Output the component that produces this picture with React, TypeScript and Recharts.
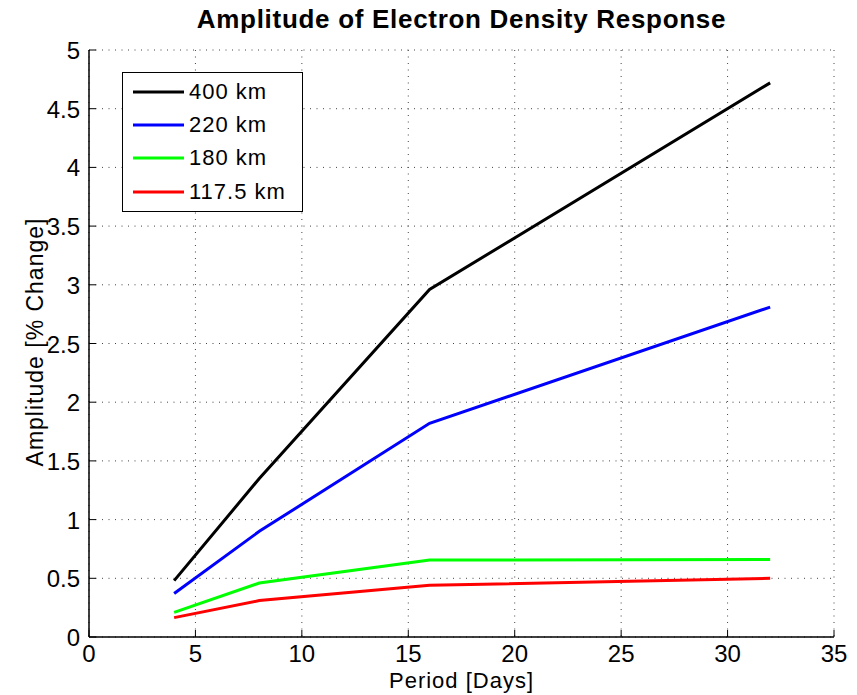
import { CartesianGrid, Line, LineChart, XAxis, YAxis } from 'recharts';

const periods = [4, 8, 16, 32];
const amp400 = [0.48, 1.35, 2.96, 4.72];
const amp220 = [0.37, 0.9, 1.82, 2.81];
const amp180 = [0.21, 0.46, 0.655, 0.66];
const amp1175 = [0.165, 0.31, 0.44, 0.5];

const xTicks = [0, 5, 10, 15, 20, 25, 30, 35];
const yTicks = [0, 0.5, 1, 1.5, 2, 2.5, 3, 3.5, 4, 4.5, 5];

const series = [
  { key: 'a400', name: '400 km', color: '#000000', values: amp400 },
  { key: 'a220', name: '220 km', color: '#0000ff', values: amp220 },
  { key: 'a180', name: '180 km', color: '#00ff00', values: amp180 },
  { key: 'a1175', name: '117.5 km', color: '#ff0000', values: amp1175 },
];

const data = periods.map((p, i) => {
  const row: Record<string, number> = { period: p };
  series.forEach(s => {
    row[s.key] = s.values[i];
  });
  return row;
});

const font = 'Liberation Sans, Arial, Helvetica, sans-serif';
const TICK = 7;

function BottomTick({ x, y, payload }: any) {
  return (
    <g>
      <line x1={x} x2={x} y1={y} y2={y - TICK} stroke={'#000'} strokeWidth={1} />
      <text x={x} y={y + 25} textAnchor={'middle'} fontSize={24} fontFamily={font} fill={'#000'}>
        {payload.value}
      </text>
    </g>
  );
}

function TopTick({ x, y }: any) {
  return <line x1={x} x2={x} y1={y} y2={y + TICK} stroke={'#000'} strokeWidth={1} />;
}

function LeftTick({ x, y, payload }: any) {
  return (
    <g>
      <line x1={x} x2={x + TICK} y1={y} y2={y} stroke={'#000'} strokeWidth={1} />
      <text x={x - 9} y={y + 9} textAnchor={'end'} fontSize={24} fontFamily={font} fill={'#000'}>
        {payload.value}
      </text>
    </g>
  );
}

function RightTick({ x, y }: any) {
  return <line x1={x} x2={x - TICK} y1={y} y2={y} stroke={'#000'} strokeWidth={1} />;
}

function LegendBox() {
  return (
    <div
      style={{
        position: 'absolute',
        left: 122,
        top: 72,
        width: 181,
        height: 140,
        border: '1.5px solid #000',
        background: '#fff',
        boxSizing: 'border-box',
        fontFamily: font,
        fontSize: 22,
        letterSpacing: 1,
        paddingTop: 2,
      }}
    >
      {series.map(s => (
        <div key={s.key} style={{ display: 'flex', alignItems: 'center', height: 33.3 }}>
          <svg width={66} height={10}>
            <line x1={10} x2={61} y1={5} y2={5} stroke={s.color} strokeWidth={3} />
          </svg>
          <span>{s.name}</span>
        </div>
      ))}
    </div>
  );
}

export default function App() {
  return (
    <div style={{ position: 'absolute', left: 0, top: 0, width: 857, height: 695, background: '#fff' }}>
      <LineChart
        width={857}
        height={695}
        data={data}
        margin={{ top: 50, right: 23, bottom: 28, left: 59 }}
        style={{ position: 'absolute', left: 0, top: 0 }}
      >
        <CartesianGrid
          xAxisId={'main'}
          yAxisId={'main'}
          stroke={'#444'}
          strokeDasharray={'1 5.5'}
          strokeWidth={1}
          verticalValues={xTicks}
          horizontalValues={yTicks}
        />
        <XAxis
          xAxisId={'main'}
          dataKey={'period'}
          type={'number'}
          domain={[0, 35]}
          ticks={xTicks}
          height={30}
          axisLine={{ stroke: '#000', strokeWidth: 1.5 }}
          tickLine={false}
          tickSize={0}
          tickMargin={0}
          tick={<BottomTick />}
          interval={0}
        />
        <XAxis
          xAxisId={'top'}
          orientation={'top'}
          type={'number'}
          domain={[0, 35]}
          ticks={xTicks}
          height={0}
          axisLine={{ stroke: '#000', strokeWidth: 1.5 }}
          tickLine={false}
          tickSize={0}
          tickMargin={0}
          tick={<TopTick />}
          interval={0}
        />
        <YAxis
          yAxisId={'main'}
          type={'number'}
          domain={[0, 5]}
          ticks={yTicks}
          width={30}
          axisLine={{ stroke: '#000', strokeWidth: 1.5 }}
          tickLine={false}
          tickSize={0}
          tickMargin={0}
          tick={<LeftTick />}
          interval={0}
        />
        <YAxis
          yAxisId={'right'}
          orientation={'right'}
          type={'number'}
          domain={[0, 5]}
          ticks={yTicks}
          width={0}
          axisLine={{ stroke: '#000', strokeWidth: 1.5 }}
          tickLine={false}
          tickSize={0}
          tickMargin={0}
          tick={<RightTick />}
          interval={0}
        />
        {series.map(s => (
          <Line
            key={s.key}
            xAxisId={'main'}
            yAxisId={'main'}
            dataKey={s.key}
            name={s.name}
            stroke={s.color}
            strokeWidth={3}
            dot={false}
            activeDot={false}
            isAnimationActive={false}
          />
        ))}
      </LineChart>
      <div
        style={{
          position: 'absolute',
          left: 0,
          width: 857,
          top: 4,
          textAlign: 'center',
          paddingLeft: 66,
          boxSizing: 'border-box',
          fontFamily: font,
          fontWeight: 'bold',
          fontSize: 26,
          letterSpacing: 0.7,
        }}
      >
        Amplitude of Electron Density Response
      </div>
      <div
        style={{
          position: 'absolute',
          left: 89,
          width: 745,
          top: 669,
          lineHeight: '24px',
          textAlign: 'center',
          fontFamily: font,
          fontSize: 22,
          letterSpacing: 1,
        }}
      >
        Period [Days]
      </div>
      <div
        style={{
          position: 'absolute',
          left: 35,
          top: 342,
          transform: 'translate(-50%, -50%) rotate(-90deg)',
          whiteSpace: 'nowrap',
          fontFamily: font,
          fontSize: 23,
          letterSpacing: 1,
        }}
      >
        Amplitude [% Change]
      </div>
      <LegendBox />
    </div>
  );
}
